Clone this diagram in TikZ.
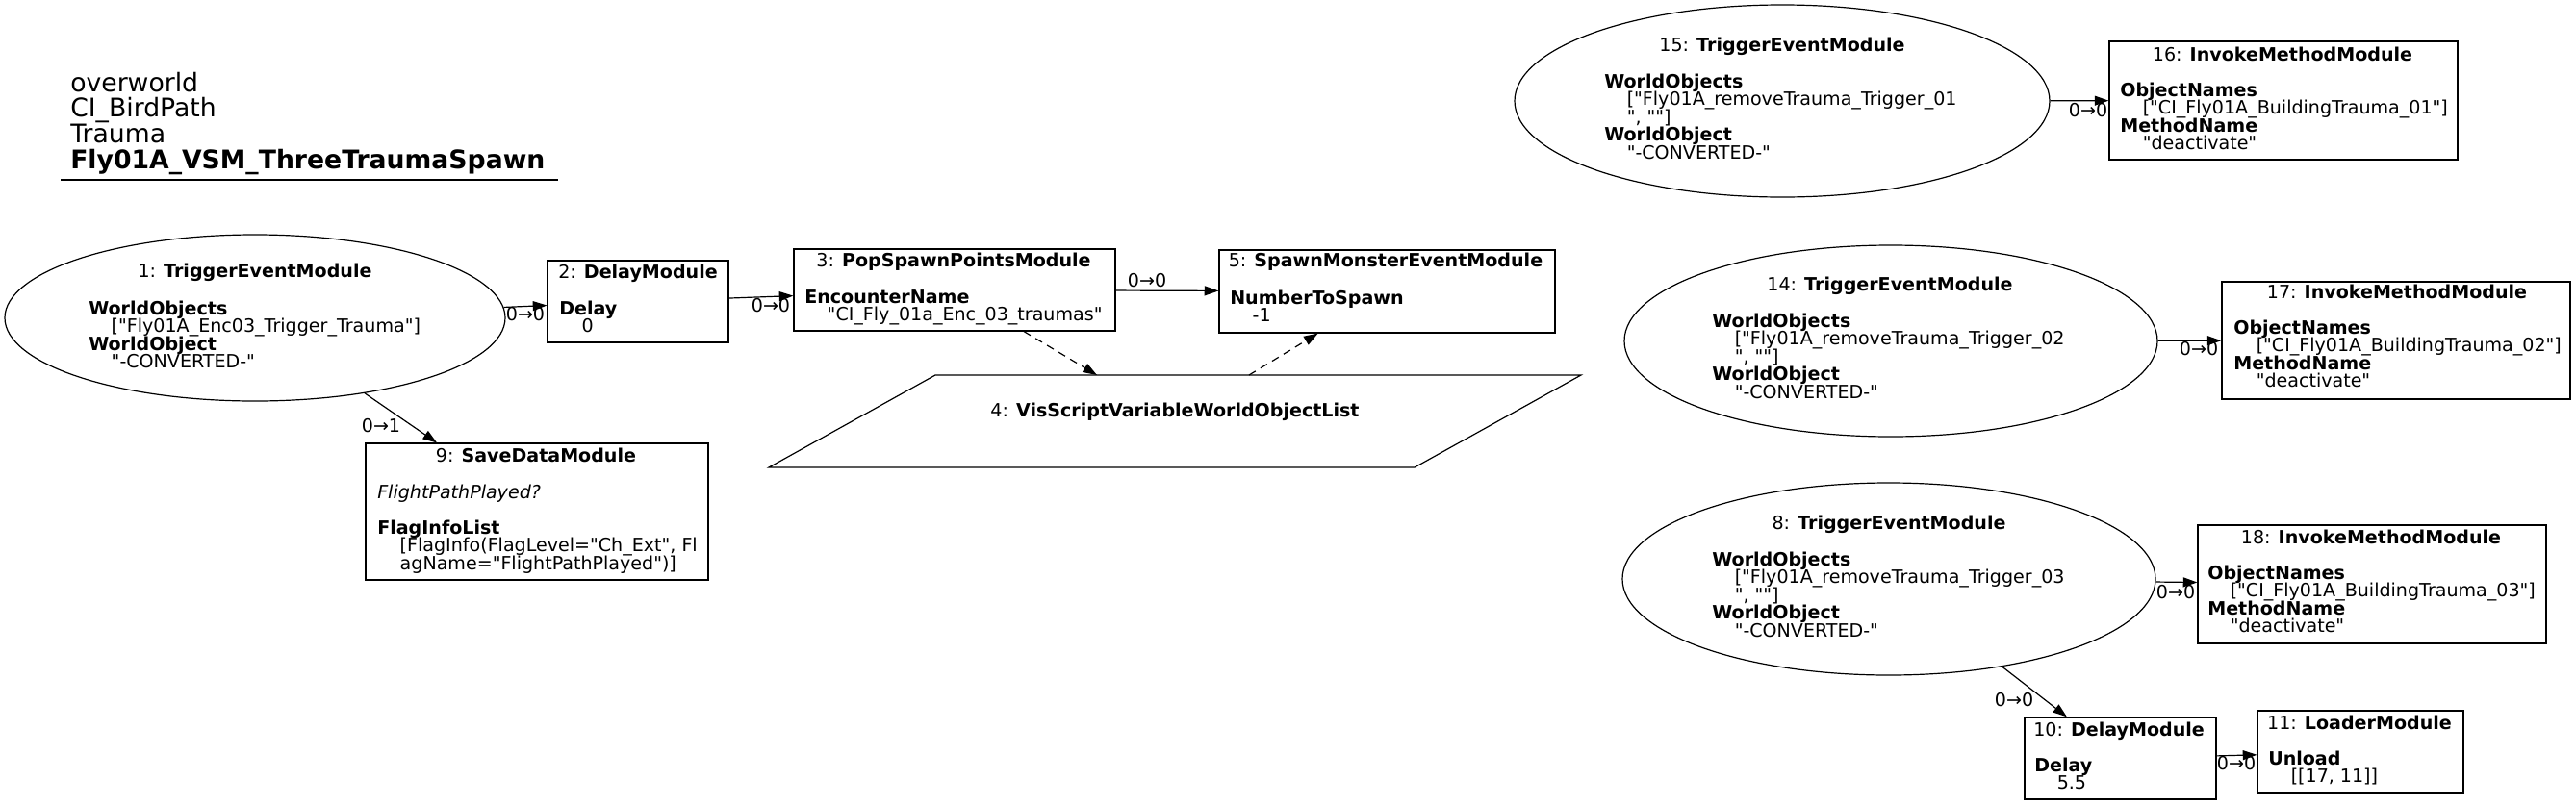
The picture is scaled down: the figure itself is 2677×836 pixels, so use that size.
\documentclass[tikz,border=0pt]{standalone}
\usepackage{fontspec}
\setmainfont{DejaVu Sans}
\usetikzlibrary{arrows.meta,shapes.geometric}
\font\myqfont="DejaVu Sans" at 14.3pt
\newcommand{\dq}{{\myqfont"}}
\newcommand{\mylines}[2][13.9pt]{\vtop{\lineskiplimit=-100pt\lineskip=0pt\baselineskip=#1 #2}}
\newcommand{\myind}{\hskip17.6pt}
\tikzset{
  every node/.style={font=\fontsize{14.3}{13.9}\selectfont, inner sep=0pt},
  ell/.style={draw, ellipse, line width=0.9pt},
  box/.style={draw, rectangle, line width=0.9pt},
  ttl/.style={anchor=base},
  body/.style={anchor=base west},
  edge/.style={line width=0.9pt, -{Triangle[length=11pt,width=7.5pt]}},
  dedge/.style={edge, dash pattern=on 6pt off 4.5pt},
  elabel/.style={anchor=center},
}
\begin{document}
\begin{tikzpicture}[x=0.75pt,y=-0.75pt]
\useasboundingbox (0,0) rectangle (2677,836);

% title
\node (title) [anchor=base west] at (73,95) {\fontsize{20}{20}\selectfont\mylines[20pt]{\hbox{overworld}\hbox{CI\_BirdPath}\hbox{Trauma}\hbox{\textbf{Fly01A\_VSM\_ThreeTraumaSpawn}}}};
\draw[line width=1pt] (63,187) -- (580,187);

% node 1
\node (n1) [ell, minimum width=390pt, minimum height=129.75pt] at (265,330.5) {};
\node (t1) [ttl] at (265,288) {1: \textbf{TriggerEventModule}};
\node (b1) [body] at (92,327) {\mylines{\hbox{\textbf{WorldObjects}}\hbox{\myind[\dq Fly01A\_Enc03\_Trigger\_Trauma\dq]}\hbox{\textbf{WorldObject}}\hbox{\myind\dq-CONVERTED-\dq}}};

% node 2
\node (n2) [box, minimum width=141pt, minimum height=63.75pt] at (663,313.5) {};
\node (t2) [ttl] at (663,289) {2: \textbf{DelayModule}};
\node (b2) [body] at (581,327) {\mylines{\hbox{\textbf{Delay}}\hbox{\myind 0}}};

% node 3
\node (n3) [box, minimum width=250.5pt, minimum height=63.75pt] at (992,301.5) {};
\node (t3) [ttl] at (991,277) {3: \textbf{PopSpawnPointsModule}};
\node (b3) [body] at (836,315) {\mylines{\hbox{\textbf{EncounterName}}\hbox{\myind\dq CI\_Fly\_01a\_Enc\_03\_traumas\dq}}};

% node 5
\node (n5) [box, minimum width=261.75pt, minimum height=64.5pt] at (1441.5,303) {};
\node (t5) [ttl] at (1440,277) {5: \textbf{SpawnMonsterEventModule}};
\node (b5) [body] at (1278,316) {\mylines{\hbox{\textbf{NumberToSpawn}}\hbox{\myind -1}}};

% node 4 (parallelogram)
\coordinate (p4tl) at (972,390);
\coordinate (p4tr) at (1643,390);
\coordinate (p4br) at (1470,486);
\coordinate (p4bl) at (799,486);
\draw[line width=0.9pt] (p4tl) -- (p4tr) -- (p4br) -- (p4bl) -- cycle;
\node (n4) [ttl] at (1221,433) {4: \textbf{VisScriptVariableWorldObjectList}};
\coordinate (p4in) at (1140,390);
\coordinate (p4out) at (1298,390);

% node 9
\node (n9) [box, minimum width=267pt, minimum height=106.5pt] at (558,532) {};
\node (t9) [ttl] at (557,480) {9: \textbf{SaveDataModule}};
\node (b9) [body] at (392,518) {\mylines{\hbox{\textit{FlightPathPlayed?}}\hbox{}\hbox{\textbf{FlagInfoList}}\hbox{\myind[FlagInfo(FlagLevel=\dq Ch\_Ext\dq, Fl}\hbox{\myind agName=\dq FlightPathPlayed\dq)]}}};

% node 15
\node (n15) [ell, minimum width=417pt, minimum height=150pt] at (1852,105) {};
\node (t15) [ttl] at (1852,53) {15: \textbf{TriggerEventModule}};
\node (b15) [body] at (1667,91) {\mylines{\hbox{\textbf{WorldObjects}}\hbox{\myind[\dq Fly01A\_removeTrauma\_Trigger\_01}\hbox{\myind\dq, \dq\dq]}\hbox{\textbf{WorldObject}}\hbox{\myind\dq-CONVERTED-\dq}}};

% node 16
\node (n16) [box, minimum width=271.5pt, minimum height=92.25pt] at (2373,104.5) {};
\node (t16) [ttl] at (2372,63) {16: \textbf{InvokeMethodModule}};
\node (b16) [body] at (2203,100) {\mylines{\hbox{\textbf{ObjectNames}}\hbox{\myind[\dq CI\_Fly01A\_BuildingTrauma\_01\dq]}\hbox{\textbf{MethodName}}\hbox{\myind\dq deactivate\dq}}};

% node 14
\node (n14) [ell, minimum width=415.5pt, minimum height=149.25pt] at (1965,354.5) {};
\node (t14) [ttl] at (1964,302) {14: \textbf{TriggerEventModule}};
\node (b14) [body] at (1779,340) {\mylines{\hbox{\textbf{WorldObjects}}\hbox{\myind[\dq Fly01A\_removeTrauma\_Trigger\_02}\hbox{\myind\dq, \dq\dq]}\hbox{\textbf{WorldObject}}\hbox{\myind\dq-CONVERTED-\dq}}};

% node 17
\node (n17) [box, minimum width=271.5pt, minimum height=91.5pt] at (2490,354) {};
\node (t17) [ttl] at (2491,310) {17: \textbf{InvokeMethodModule}};
\node (b17) [body] at (2321,347) {\mylines{\hbox{\textbf{ObjectNames}}\hbox{\myind[\dq CI\_Fly01A\_BuildingTrauma\_02\dq]}\hbox{\textbf{MethodName}}\hbox{\myind\dq deactivate\dq}}};

% node 8
\node (n8) [ell, minimum width=415.5pt, minimum height=150pt] at (1963,602) {};
\node (t8) [ttl] at (1963,550) {8: \textbf{TriggerEventModule}};
\node (b8) [body] at (1779,588) {\mylines{\hbox{\textbf{WorldObjects}}\hbox{\myind[\dq Fly01A\_removeTrauma\_Trigger\_03}\hbox{\myind\dq, \dq\dq]}\hbox{\textbf{WorldObject}}\hbox{\myind\dq-CONVERTED-\dq}}};

% node 18
\node (n18) [box, minimum width=271.5pt, minimum height=92.25pt] at (2465,607.5) {};
\node (t18) [ttl] at (2464,565) {18: \textbf{InvokeMethodModule}};
\node (b18) [body] at (2294,602) {\mylines{\hbox{\textbf{ObjectNames}}\hbox{\myind[\dq CI\_Fly01A\_BuildingTrauma\_03\dq]}\hbox{\textbf{MethodName}}\hbox{\myind\dq deactivate\dq}}};

% node 10
\node (n10) [box, minimum width=149.25pt, minimum height=63.75pt] at (2203.5,788.5) {};
\node (t10) [ttl] at (2202,765) {10: \textbf{DelayModule}};
\node (b10) [body] at (2114,802) {\mylines{\hbox{\textbf{Delay}}\hbox{\myind 5.5}}};

% node 11
\node (n11) [box, minimum width=160.5pt, minimum height=64.5pt] at (2453,782) {};
\node (t11) [ttl] at (2452,758) {11: \textbf{LoaderModule}};
\node (b11) [body] at (2357,795) {\mylines{\hbox{\textbf{Unload}}\hbox{\myind[[17, 11]]}}};

% edges
\draw[edge] (n1) -- (n2);
\node (l12) [elabel] at (546,327) {0→0};
\draw[edge] (n2) -- (n3);
\node (l23) [elabel] at (801,318) {0→0};
\draw[edge] (n3) -- (n5);
\node (l35) [elabel] at (1192,292) {0→0};
\draw[dedge] (n3) -- (p4in);
\draw[dedge] (p4out) -- (n5);
\draw[edge] (n1) -- (n9);
\node (l19) [elabel] at (396,443) {0→1};
\draw[edge] (n15) -- (n16);
\node (l1516) [elabel] at (2170,115) {0→0};
\draw[edge] (n14) -- (n17);
\node (l1417) [elabel] at (2285,363) {0→0};
\draw[edge] (n8) -- (n18);
\node (l818) [elabel] at (2261,616) {0→0};
\draw[edge] (n8) -- (n10);
\node (l810) [elabel] at (2093,728) {0→0};
\draw[edge] (n10) -- (n11);
\node (l1011) [elabel] at (2324,794) {0→0};
\end{tikzpicture}
\end{document}
